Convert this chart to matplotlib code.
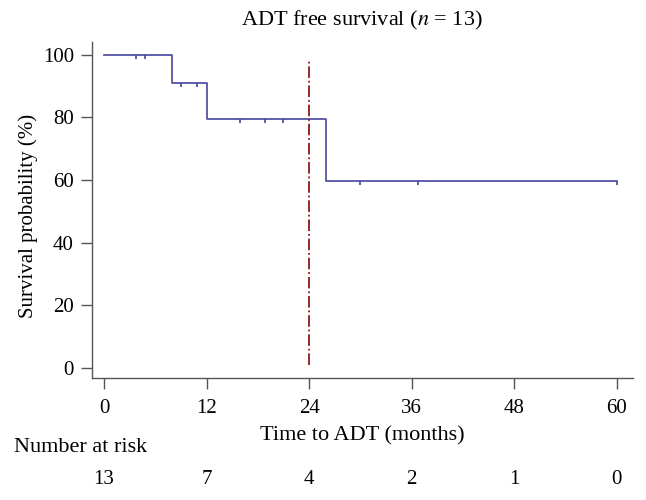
import matplotlib
matplotlib.use("Agg")
import matplotlib.pyplot as plt
from matplotlib.path import Path
import numpy as np

# Data
event_times = [0, 8, 12, 26, 60]
survival = [100, 90.9, 79.5, 59.6, 59.6]
censor_times = [3.8, 4.8, 9.0, 10.9, 15.9, 18.9, 20.9, 29.9, 36.8, 60]
risk_times = [0, 12, 24, 36, 48, 60]
risk_counts = [13, 7, 4, 2, 1, 0]
xticks = [0, 12, 24, 36, 48, 60]
yticks = [0, 20, 40, 60, 80, 100]
landmark = 24

plt.rcParams['font.family'] = ['Liberation Serif', 'DejaVu Serif']
plt.rcParams['mathtext.fontset'] = 'stix'

W, H = 646, 500
fig = plt.figure(figsize=(W/100, H/100), dpi=100)
ax = fig.add_axes([92/W, 1-378/H, (633-92)/W, (378-42)/H])

line_color = '#45459e'
ax.step(event_times, survival, where='post', color=line_color, lw=1.2)

def surv_at(t):
    idx = np.searchsorted(event_times, t, side='right') - 1
    return survival[idx]

tick_marker = Path([(0, 0), (0, -1)], [Path.MOVETO, Path.LINETO])
ax.plot(censor_times, [surv_at(t) for t in censor_times], linestyle='none',
        marker=tick_marker, markersize=6, markeredgecolor=line_color,
        markeredgewidth=1.2)

ax.vlines(landmark, 1, 98, colors='#8b1a1a', linestyles='dashdot', lw=1.3)

ax.set_xlim(-1.4, 61.9)
ax.set_ylim(-3.2, 104)
ax.set_xticks(xticks)
ax.set_yticks(yticks)
for s in ['top', 'right']:
    ax.spines[s].set_visible(False)
for s in ['left', 'bottom']:
    ax.spines[s].set_color('#555555')
    ax.spines[s].set_linewidth(1.0)
ax.tick_params(direction='out', length=8, width=1.0, color='#555555',
               labelsize=15)
ax.tick_params(axis='x', pad=7)
ax.tick_params(axis='y', pad=5)

def fx(px):
    return px / W

def fy(py):
    return 1 - py / H

fig.text(fx(362), fy(20), 'ADT free survival ($\\mathit{n}$ = 13)', fontsize=16,
         ha='center', va='center')
fig.text(fx(362), fy(436), 'Time to ADT (months)', fontsize=16,
         ha='center', va='center')
fig.text(fx(28), fy(216), 'Survival probability (%)', fontsize=15,
         ha='center', va='center', rotation=90)

fig.text(fx(14), fy(447), 'Number at risk', fontsize=16, ha='left', va='center')
for t, c in zip(risk_times, risk_counts):
    x_fig = fig.transFigure.inverted().transform(ax.transData.transform((t, 0)))[0]
    fig.text(x_fig, fy(480), str(c), fontsize=15, ha='center', va='center')

fig.savefig('out.png', dpi=100)
